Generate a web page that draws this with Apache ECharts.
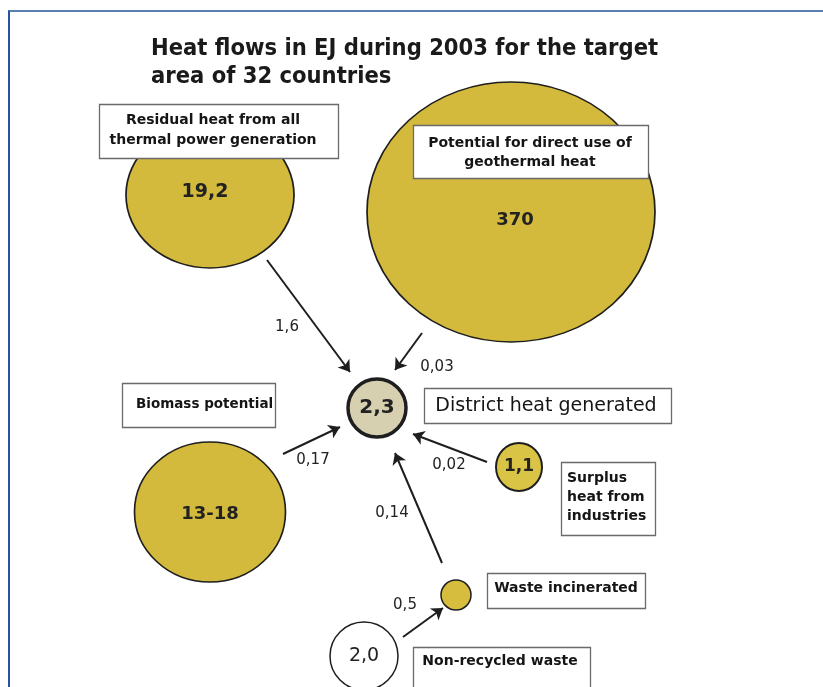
<!DOCTYPE html>
<html>
<head>
<meta charset="utf-8">
<script src="https://cdn.jsdelivr.net/npm/echarts@6/dist/echarts.min.js"></script>
<style>
  html, body { margin: 0; padding: 0; background: #ffffff; }
  #frame { position: absolute; left: 8px; top: 10px; width: 815px; height: 677px;
           border-top: 2px solid #5a7fae; border-left: 2px solid #2a52a3; box-sizing: border-box; }
  #chart { position: absolute; left: 0; top: 0; width: 823px; height: 687px; }
</style>
</head>
<body>
<div id="frame"></div>
<div id="chart"></div>
<script>
// ---------- data ----------
const titleLines = ['Heat flows in EJ during 2003 for the target', 'area of 32 countries'];
const nodeNames = ['Residual heat from all\nthermal power generation',
                   'Potential for direct use of\ngeothermal heat',
                   'District heat generated',
                   'Biomass potential',
                   'Surplus\nheat from\nindustries',
                   'Waste incinerated',
                   'Non-recycled waste'];
const nodeValues = ['19,2', '370', '2,3', '13-18', '1,1', '', '2,0'];
const flowFrom = [0, 1, 3, 4, 5, 6];
const flowTo = [2, 2, 2, 2, 2, 5];
const flowValues = ['1,6', '0,03', '0,17', '0,02', '0,14', '0,5'];

// ---------- layout (diagram units on hidden axes) ----------
const circleX = [210, 511, 377, 210, 519, 456, 364];
const circleY = [195, 212, 408, 512, 467, 595, 656];
const circleW = [168, 288, 58, 151, 46, 30, 68];
const circleH = [146, 260, 58, 140, 48, 30, 68];
const circleFill = ['#d3b93c', '#d3b93c', '#d6cfb0', '#d3b93c', '#d9c445', '#d6bd3e', '#ffffff'];
const circleBorder = [1.6, 1.6, 3.5, 1.6, 2, 1.5, 1.5];
const valueOffset = [[-5, -3], [4, 8], [0, 0], [0, 2], [0, 0], [0, 0], [0, 0]];
const valueFont = [19, 18, 20, 18, 17, 18, 19];
const valueWeight = ['bold', 'bold', 'bold', 'bold', 'bold', 'bold', 'normal'];

const boxX = [218.5, 530.5, 547.5, 198.5, 608, 566, 501.5];
const boxY = [131, 151.5, 405.5, 405, 498.5, 590.5, 675];
const boxW = [239, 235, 247, 153, 94, 158, 177];
const boxH = [54, 53, 35, 44, 73, 35, 56];
const boxFont = [14, 14, 19, 13.5, 14, 14, 14];
const boxWeight = ['bold', 'bold', 'normal', 'bold', 'bold', 'bold', 'bold'];
const boxAlign = ['center', 'center', 'center', 'left', 'left', 'center', 'center'];
const boxTextX = [213, 530, 546, 136, 567, 566, 500];
const boxTextY = [130, 153, 406, 404, 497, 588, 661];
const boxLineH = [20, 19, 22, 20, 19, 20, 20];

const flowStart = [[267, 260], [422, 333], [283, 454], [487, 462], [442, 563], [403, 637]];
const flowEnd = [[350, 372], [395, 370], [340, 427], [413, 434], [395, 453], [443, 608]];
const flowLabelPos = [[287, 327], [437, 367], [313, 460], [449, 465], [392, 513], [405, 605]];

const FONT = '"DejaVu Sans", sans-serif';
const TITLE_FONT = '"DejaVu Sans Condensed", "DejaVu Sans", sans-serif';

// ---------- build ----------
const circleData = nodeValues.map((v, i) => ({
  name: nodeNames[i],
  value: [circleX[i], circleY[i]],
  symbolSize: [circleW[i], circleH[i]],
  itemStyle: { color: circleFill[i], borderColor: '#1e1e1e', borderWidth: circleBorder[i], opacity: 1 },
  label: { show: v !== '', formatter: v, offset: valueOffset[i], fontSize: valueFont[i], fontWeight: valueWeight[i] }
}));

const boxData = nodeNames.map((n, i) => ({ name: n, value: [boxX[i], boxY[i], i] }));

function renderBox(params, api) {
  const i = api.value(2);
  const c = api.coord([api.value(0), api.value(1)]);
  const t = api.coord([boxTextX[i], boxTextY[i]]);
  const w = boxW[i], h = boxH[i];
  const rectShape = { x: Math.round(c[0] - w / 2) + 0.5, y: Math.round(c[1] - h / 2) + 0.5, width: w, height: h };
  const textStyle = {
    text: nodeNames[i], x: t[0], y: t[1],
    align: boxAlign[i], verticalAlign: 'middle',
    fontFamily: FONT, fontSize: boxFont[i], fontWeight: boxWeight[i],
    lineHeight: boxLineH[i], fill: '#151515'
  };
  return {
    type: 'group',
    children: [
      { type: 'rect', shape: rectShape, style: { fill: '#ffffff', stroke: null } },
      { type: 'text', style: textStyle },
      { type: 'rect', shape: rectShape, style: { fill: null, stroke: '#6a6a6a', lineWidth: 1.3 } }
    ]
  };
}

const lineData = flowValues.map((v, i) => ({
  name: nodeNames[flowFrom[i]] + ' -> ' + nodeNames[flowTo[i]],
  coords: [flowStart[i], flowEnd[i]]
}));

const flowLabelData = flowValues.map((v, i) => ({
  value: flowLabelPos[i],
  label: { formatter: v }
}));

const chart = echarts.init(document.getElementById('chart'), null, { renderer: 'canvas' });
chart.setOption({
  backgroundColor: 'transparent',
  animation: false,
  title: {
    text: titleLines.join('\n'),
    left: 146, top: 30,
    textStyle: { fontFamily: TITLE_FONT, fontSize: 23.5, fontWeight: 'bold', color: '#1a1a1a', lineHeight: 28 }
  },
  grid: { left: 0, right: 0, top: 0, bottom: 0 },
  xAxis: { type: 'value', min: 0, max: 823, show: false },
  yAxis: { type: 'value', min: 0, max: 687, inverse: true, show: false },
  series: [
    {
      type: 'scatter', z: 2, symbol: 'circle', silent: true,
      label: { show: true, position: 'inside', color: '#222', fontFamily: FONT },
      data: circleData
    },
    {
      type: 'custom', z: 3, silent: true, clip: false,
      renderItem: renderBox,
      data: boxData
    },
    {
      type: 'lines', coordinateSystem: 'cartesian2d', z: 4, silent: true,
      symbol: ['none', 'arrow'], symbolSize: 11,
      lineStyle: { color: '#1e1e1e', width: 2, opacity: 1 },
      data: lineData
    },
    {
      type: 'scatter', z: 5, symbolSize: 0, silent: true,
      itemStyle: { opacity: 1 },
      label: { show: true, position: 'inside', color: '#222222', fontFamily: FONT, fontSize: 15 },
      data: flowLabelData
    }
  ]
});
</script>
</body>
</html>
